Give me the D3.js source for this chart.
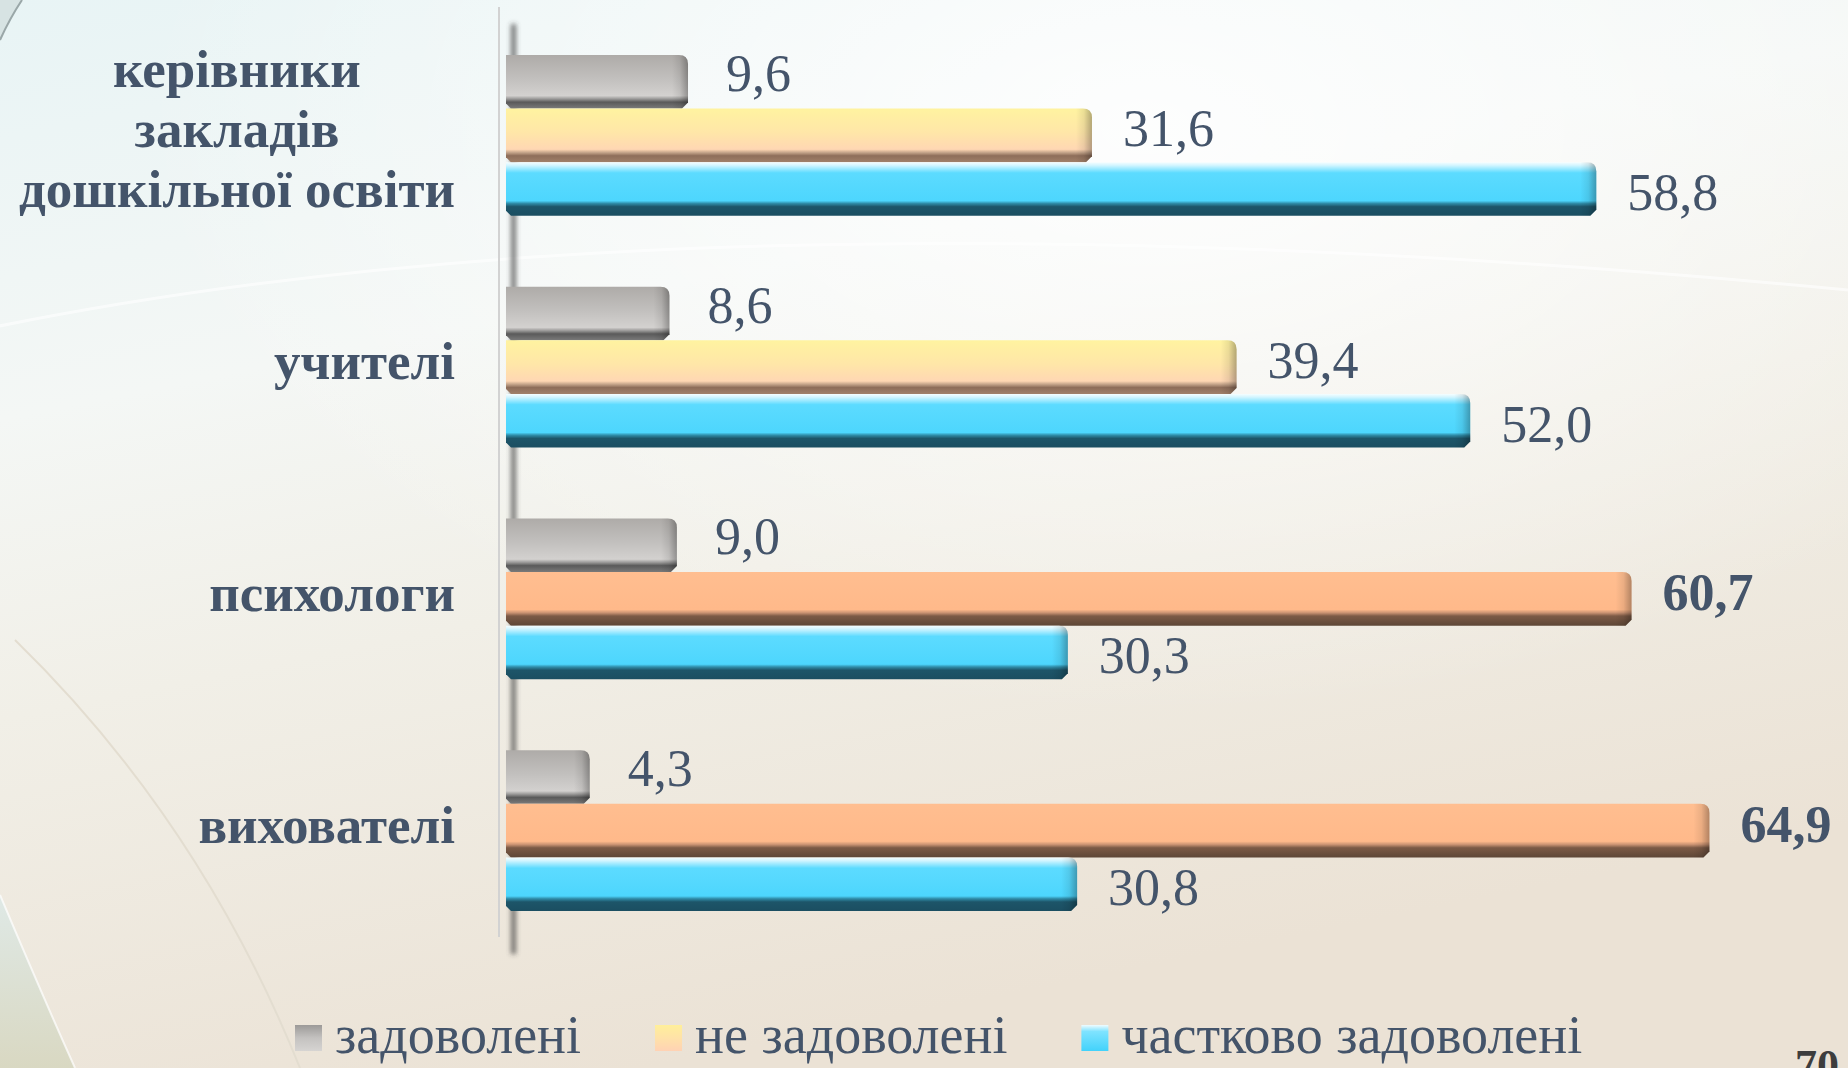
<!DOCTYPE html>
<html>
<head>
<meta charset="utf-8">
<script src="https://cdn.jsdelivr.net/npm/d3@7/dist/d3.min.js"></script>
<style>
  html, body { margin: 0; padding: 0; overflow: hidden; }
  svg text { font-family: 'Liberation Serif', 'Times New Roman', 'DejaVu Serif', serif; }
</style>
</head>
<body>
<div id="chart"></div>
<script>
// data
var categories = ['керівники закладів дошкільної освіти', 'учителі', 'психологи', 'вихователі'];
var categoryLines = [['керівники', 'закладів', 'дошкільної освіти'], ['учителі'], ['психологи'], ['вихователі']];
var seriesNames = ['задоволені', 'не задоволені', 'частково задоволені'];
var satisfied = [9.6, 8.6, 9.0, 4.3];
var notSatisfied = [31.6, 39.4, 60.7, 64.9];
var partlySatisfied = [58.8, 52.0, 30.3, 30.8];
var highlighted = ['психологи', 'вихователі'];   // orange bars + bold labels
var valueLabels = [['9,6', '31,6', '58,8'], ['8,6', '39,4', '52,0'], ['9,0', '60,7', '30,3'], ['4,3', '64,9', '30,8']];
var pageNumber = '70';

var W = 1848, H = 1068;
var textColor = '#44546a';
var serif = "'Liberation Serif', 'Times New Roman', 'DejaVu Serif', serif";

var svg = d3.select('#chart').append('svg')
  .attr('width', W)
  .attr('height', H)
  .attr('font-family', serif);

var defs = svg.append('defs');

function addGradient(id, stops, x2, y2) {
  var g = defs.append('linearGradient').attr('id', id)
    .attr('x1', 0).attr('y1', 0).attr('x2', x2).attr('y2', y2);
  stops.forEach(function(s) {
    g.append('stop').attr('offset', s[0]).attr('stop-color', s[1])
      .attr('stop-opacity', s[2] === undefined ? 1 : s[2]);
  });
}

// background
addGradient('bg', [[0, '#e8f4f5'], [0.35, '#f4f7f5'], [0.6, '#f1efe7'], [1, '#ebe2d5']], 0.35, 1);
addGradient('bgLeft', [[0, '#dfe9e6'], [1, '#d9d8c2']], 0, 1);
var rg = defs.append('radialGradient').attr('id', 'glow')
  .attr('cx', 0.62).attr('cy', 0.12).attr('r', 0.55);
rg.append('stop').attr('offset', 0).attr('stop-color', '#ffffff').attr('stop-opacity', 0.85);
rg.append('stop').attr('offset', 1).attr('stop-color', '#ffffff').attr('stop-opacity', 0);

// bar faces
addGradient('g-gray', [[0, '#aeaba8'], [0.45, '#c2c0be'], [0.76, '#d3d1cf'], [0.82, '#9a9998'], [0.88, '#5a5a5a'], [1, '#7a7a7a']], 0, 1);
addGradient('g-yellow', [[0, '#fff3a0'], [0.45, '#ffe6a8'], [0.76, '#ffd7b3'], [0.82, '#c4a48a'], [0.88, '#8e6e5a'], [1, '#a0806a']], 0, 1);
addGradient('g-orange', [[0, '#ffbe90'], [0.7, '#ffb98a'], [0.76, '#c99272'], [0.82, '#7c5a46'], [1, '#5e4737']], 0, 1);
addGradient('g-blue', [[0, '#f6feff'], [0.06, '#d2f5ff'], [0.2, '#5cdbff'], [0.72, '#4dd6fd'], [0.77, '#2f8ca8'], [0.83, '#1d5569'], [1, '#1b4e61']], 0, 1);
addGradient('g-cap', [[0, '#000', 0], [0.5, '#000', 0.08], [1, '#000', 0.3]], 1, 0);

var blur = defs.append('filter').attr('id', 'blur')
  .attr('filterUnits', 'userSpaceOnUse')
  .attr('x', 490).attr('y', 0).attr('width', 60).attr('height', 1000);
blur.append('feGaussianBlur').attr('stdDeviation', 2.5);

svg.append('rect').attr('width', W).attr('height', H).attr('fill', 'url(#bg)');
svg.append('rect').attr('width', W).attr('height', H).attr('fill', 'url(#glow)');
svg.append('path')
  .attr('d', 'M0 895 Q40 990 75 1068 L0 1068 Z')
  .attr('fill', 'url(#bgLeft)');
svg.append('path')
  .attr('d', 'M0 895 Q40 990 75 1068')
  .attr('fill', 'none').attr('stroke', '#ffffff').attr('stroke-opacity', 0.7).attr('stroke-width', 2);
svg.append('path')
  .attr('d', 'M0 40 Q10 18 22 0 L0 0 Z')
  .attr('fill', '#d7e3e3');
svg.append('path')
  .attr('d', 'M0 40 Q10 18 22 0')
  .attr('fill', 'none').attr('stroke', '#9aa7a8').attr('stroke-width', 2);
svg.append('path')
  .attr('d', 'M15 640 Q200 820 300 1068')
  .attr('fill', 'none').attr('stroke', '#e3ddd0').attr('stroke-width', 2);
svg.append('path')
  .attr('d', 'M-20 330 Q700 180 1848 290')
  .attr('fill', 'none').attr('stroke', '#ffffff').attr('stroke-opacity', 0.6).attr('stroke-width', 3);

// scales
var x = d3.scaleLinear().domain([0, 70]).range([506, 1804]);
var y0 = d3.scaleBand().domain(categories).range([19.5, 946.5])
  .paddingInner(0.306).paddingOuter(0.153);
var y1 = d3.scaleBand().domain(seriesNames).range([0, y0.bandwidth()]);

var rows = categories.map(function(c, i) {
  return {
    category: c,
    lines: categoryLines[i],
    values: [satisfied[i], notSatisfied[i], partlySatisfied[i]],
    labels: valueLabels[i],
    hot: highlighted.indexOf(c) >= 0
  };
});

// axis line with its soft shadow
svg.append('line')
  .attr('x1', x(0) - 7).attr('x2', x(0) - 7)
  .attr('y1', 7).attr('y2', 937)
  .attr('stroke', '#d2d2d2').attr('stroke-width', 2);
svg.append('rect')
  .attr('x', x(0) + 5).attr('y', 24)
  .attr('width', 5).attr('height', 930)
  .attr('fill', '#3c3c3c').attr('fill-opacity', 0.7)
  .attr('filter', 'url(#blur)');

function barPath(x0, x1, y, h) {
  var r = Math.min(9, (x1 - x0) / 2);
  return 'M' + x0 + ' ' + y +
    'H' + (x1 - r) + 'Q' + x1 + ' ' + y + ' ' + x1 + ' ' + (y + r) +
    'V' + (y + h - 6) + 'L' + (x1 - 6) + ' ' + (y + h) +
    'H' + (x0 + 5) + 'L' + x0 + ' ' + (y + h - 5) + 'Z';
}

function capPath(x1, y, h) {
  var r = 9;
  return 'M' + (x1 - 16) + ' ' + y +
    'H' + (x1 - r) + 'Q' + x1 + ' ' + y + ' ' + x1 + ' ' + (y + r) +
    'V' + (y + h - 6) + 'L' + (x1 - 6) + ' ' + (y + h) +
    'H' + (x1 - 16) + 'Z';
}

function fillFor(row, j) {
  if (j === 0) return 'url(#g-gray)';
  if (j === 1) return row.hot ? 'url(#g-orange)' : 'url(#g-yellow)';
  return 'url(#g-blue)';
}

var groups = svg.selectAll('g.group').data(rows)
  .enter().append('g')
  .attr('class', 'group')
  .attr('transform', function(d) { return 'translate(0,' + y0(d.category) + ')'; });

var bars = groups.selectAll('g.bar')
  .data(function(d) {
    return d.values.map(function(v, j) {
      return { row: d, j: j, series: seriesNames[j], value: v, label: d.labels[j] };
    });
  })
  .enter().append('g')
  .attr('class', 'bar');

bars.append('path')
  .attr('d', function(d) { return barPath(x(0), x(d.value) + (d.j === 0 ? 4 : 0), y1(d.series), y1.bandwidth()); })
  .attr('fill', function(d) { return fillFor(d.row, d.j); });

bars.append('path')
  .attr('d', function(d) { return capPath(x(d.value) + (d.j === 0 ? 4 : 0), y1(d.series), y1.bandwidth()); })
  .attr('fill', 'url(#g-cap)');

var labelShift = [9, 11, 21];
bars.append('text')
  .attr('x', function(d) { return x(d.value) + (d.j === 0 ? 42 : 31); })
  .attr('y', function(d) { return y1(d.series) + y1.bandwidth() / 2 + labelShift[d.j]; })
  .attr('font-size', 52)
  .attr('font-weight', function(d) { return d.row.hot && d.j === 1 ? 'bold' : 'normal'; })
  .attr('fill', textColor)
  .text(function(d) { return d.label; });

// category labels, right edge at 455, multi-line text centred on its widest line
var labelRight = 455, lineStep = 60;
groups.each(function(d) {
  var g = d3.select(this);
  var mid = y0.bandwidth() / 2;
  var n = d.lines.length;
  var t = g.append('text')
    .attr('font-size', 53)
    .attr('font-weight', 'bold')
    .attr('fill', textColor);
  var spans = t.selectAll('tspan').data(d.lines).enter().append('tspan')
    .attr('y', function(s, i) { return mid + 12 + (i - (n - 1) / 2) * lineStep; })
    .text(function(s) { return s; });
  var widest = 0;
  spans.each(function() { widest = Math.max(widest, this.getComputedTextLength()); });
  if (n === 1) {
    spans.attr('x', labelRight).attr('text-anchor', 'end');
  } else {
    spans.attr('x', labelRight - widest / 2).attr('text-anchor', 'middle');
  }
});

// legend
addGradient('l-gray', [[0, '#9c9a98'], [0.5, '#c4c2c0'], [1, '#d6d4d2']], 0, 1);
addGradient('l-yellow', [[0, '#ffef9a'], [0.5, '#ffe2a8'], [1, '#ffd2b4']], 0, 1);
addGradient('l-blue', [[0, '#f0fcff'], [0.25, '#7fe3ff'], [1, '#42d2fb']], 0, 1);
var legendSwatch = ['url(#l-gray)', 'url(#l-yellow)', 'url(#l-blue)'];

var legend = svg.append('g').attr('class', 'legend');
var lx = 295;
seriesNames.forEach(function(name, i) {
  legend.append('rect')
    .attr('x', lx).attr('y', 1025)
    .attr('width', 27).attr('height', 26)
    .attr('fill', legendSwatch[i]);
  var t = legend.append('text')
    .attr('x', lx + 40).attr('y', 1053)
    .attr('font-size', 54)
    .attr('fill', textColor)
    .text(name);
  lx += 40 + t.node().getComputedTextLength() + 74;
});

svg.append('text')
  .attr('x', 1795).attr('y', 1080)
  .attr('font-size', 44)
  .attr('font-weight', 'bold')
  .attr('fill', '#3d3d3d')
  .text(pageNumber);
</script>
</body>
</html>
